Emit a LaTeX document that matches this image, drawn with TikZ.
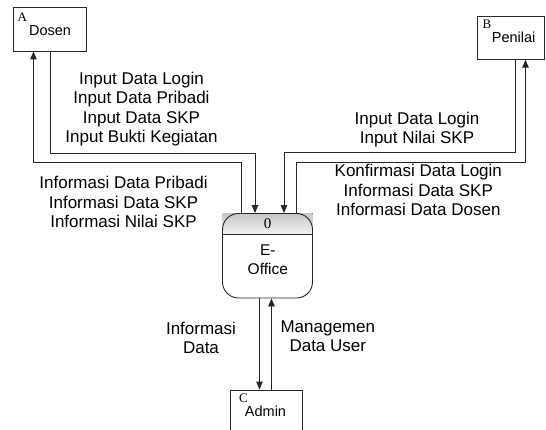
\documentclass[tikz,border=0pt]{standalone}
\usepackage{fontspec}
\setmainfont{Liberation Sans}
\newfontfamily\serifid{Liberation Serif}
\usetikzlibrary{arrows.meta}
\begin{document}
\begin{tikzpicture}[x=1pt,y=-1pt,
  line/.style={draw=black!85, line width=0.9pt},
  arr/.style={line, -{Triangle[length=8pt,width=6.5pt]}},
  entity/.style={draw=black!85, line width=0.9pt, fill=white, inner sep=0pt},
  lbl/.style={inner sep=0pt, align=center, anchor=north, font=\fontsize{17}{19.5}\selectfont},
  ename/.style={inner sep=0pt, font=\fontsize{14.5}{17}\selectfont},
  eid/.style={inner sep=0pt, anchor=north west, font=\serifid\fontsize{13}{15}\selectfont}]

\useasboundingbox (0,0) rectangle (546,430);

% external entities
\node[entity, minimum width=73pt, minimum height=44pt] (dosen) at (50,29) {};
\node[entity, minimum width=67.5pt, minimum height=42.5pt] (penilai) at (511,38) {};
\node[entity, minimum width=72.5pt, minimum height=50pt] (admin) at (266.25,415) {};

\node[ename] (dosent) at (50,30.5) {Dosen};
\node[eid] (ida) at (17.5,12.5) {A};
\node[ename] (penilait) at (513.7,37.5) {Penilai};
\node[eid] (idb) at (482.5,20) {B};
\node[ename] (admint) at (265.5,411.3) {Admin};
\node[eid] (idc) at (239,394) {C};

% process
\fill[top color=black!22, bottom color=black!6] (222.5,213.5) rectangle (312.5,234);
\node[draw=black!85, line width=0.9pt, rounded corners=16pt, minimum width=90pt,
      minimum height=84.5pt, inner sep=0pt] (p) at (267.5,255.75) {};
\draw[line] (p.west |- 0,234) -- (p.east |- 0,234);
\node[inner sep=0pt, font=\serifid\fontsize{15}{18}\selectfont] (pid) at (267.5,223.5) {0};
\node[lbl, font=\fontsize{15.5}{18.3}\selectfont] (pname) at (267.8,245) {E-\\Office};

% connectors Dosen
\draw[arr] (dosen.south) -- ++(0,102) -| ([xshift=-12.5pt]p.north);
\draw[arr] ([xshift=-26.5pt]p.north) -- ++(0,-50.5) -| ([xshift=-16.5pt]dosen.south);

% connectors Penilai
\draw[arr] ([xshift=4pt]penilai.south) -- ++(0,92.5) -| ([xshift=16.5pt]p.north);
\draw[arr] ([xshift=28.5pt]p.north) -- ++(0,-50.5) -| ([xshift=14.5pt]penilai.south);

% connectors Admin
\draw[arr] ([xshift=-8pt]p.south) -- ([xshift=-8pt]p.south |- admin.north);
\draw[arr] ([xshift=4pt]p.south |- admin.north) -- ([xshift=4pt]p.south);

% flow labels
\node[lbl] (l1) at (141.5,71.5) {Input Data Login\\Input Data Pribadi\\Input Data SKP\\Input Bukti Kegiatan};
\node[lbl] (l2) at (123.5,176) {Informasi Data Pribadi\\Informasi Data SKP\\Informasi Nilai SKP};
\node[lbl] (l3) at (417,111.5) {Input Data Login\\Input Nilai SKP};
\node[lbl] (l4) at (418.3,164.3) {Konfirmasi Data Login\\Informasi Data SKP\\Informasi Data Dosen};
\node[lbl] (l5) at (201,321.5) {Informasi\\Data};
\node[lbl] (l6) at (327.8,320.5) {Managemen\\Data User};
\end{tikzpicture}
\end{document}
